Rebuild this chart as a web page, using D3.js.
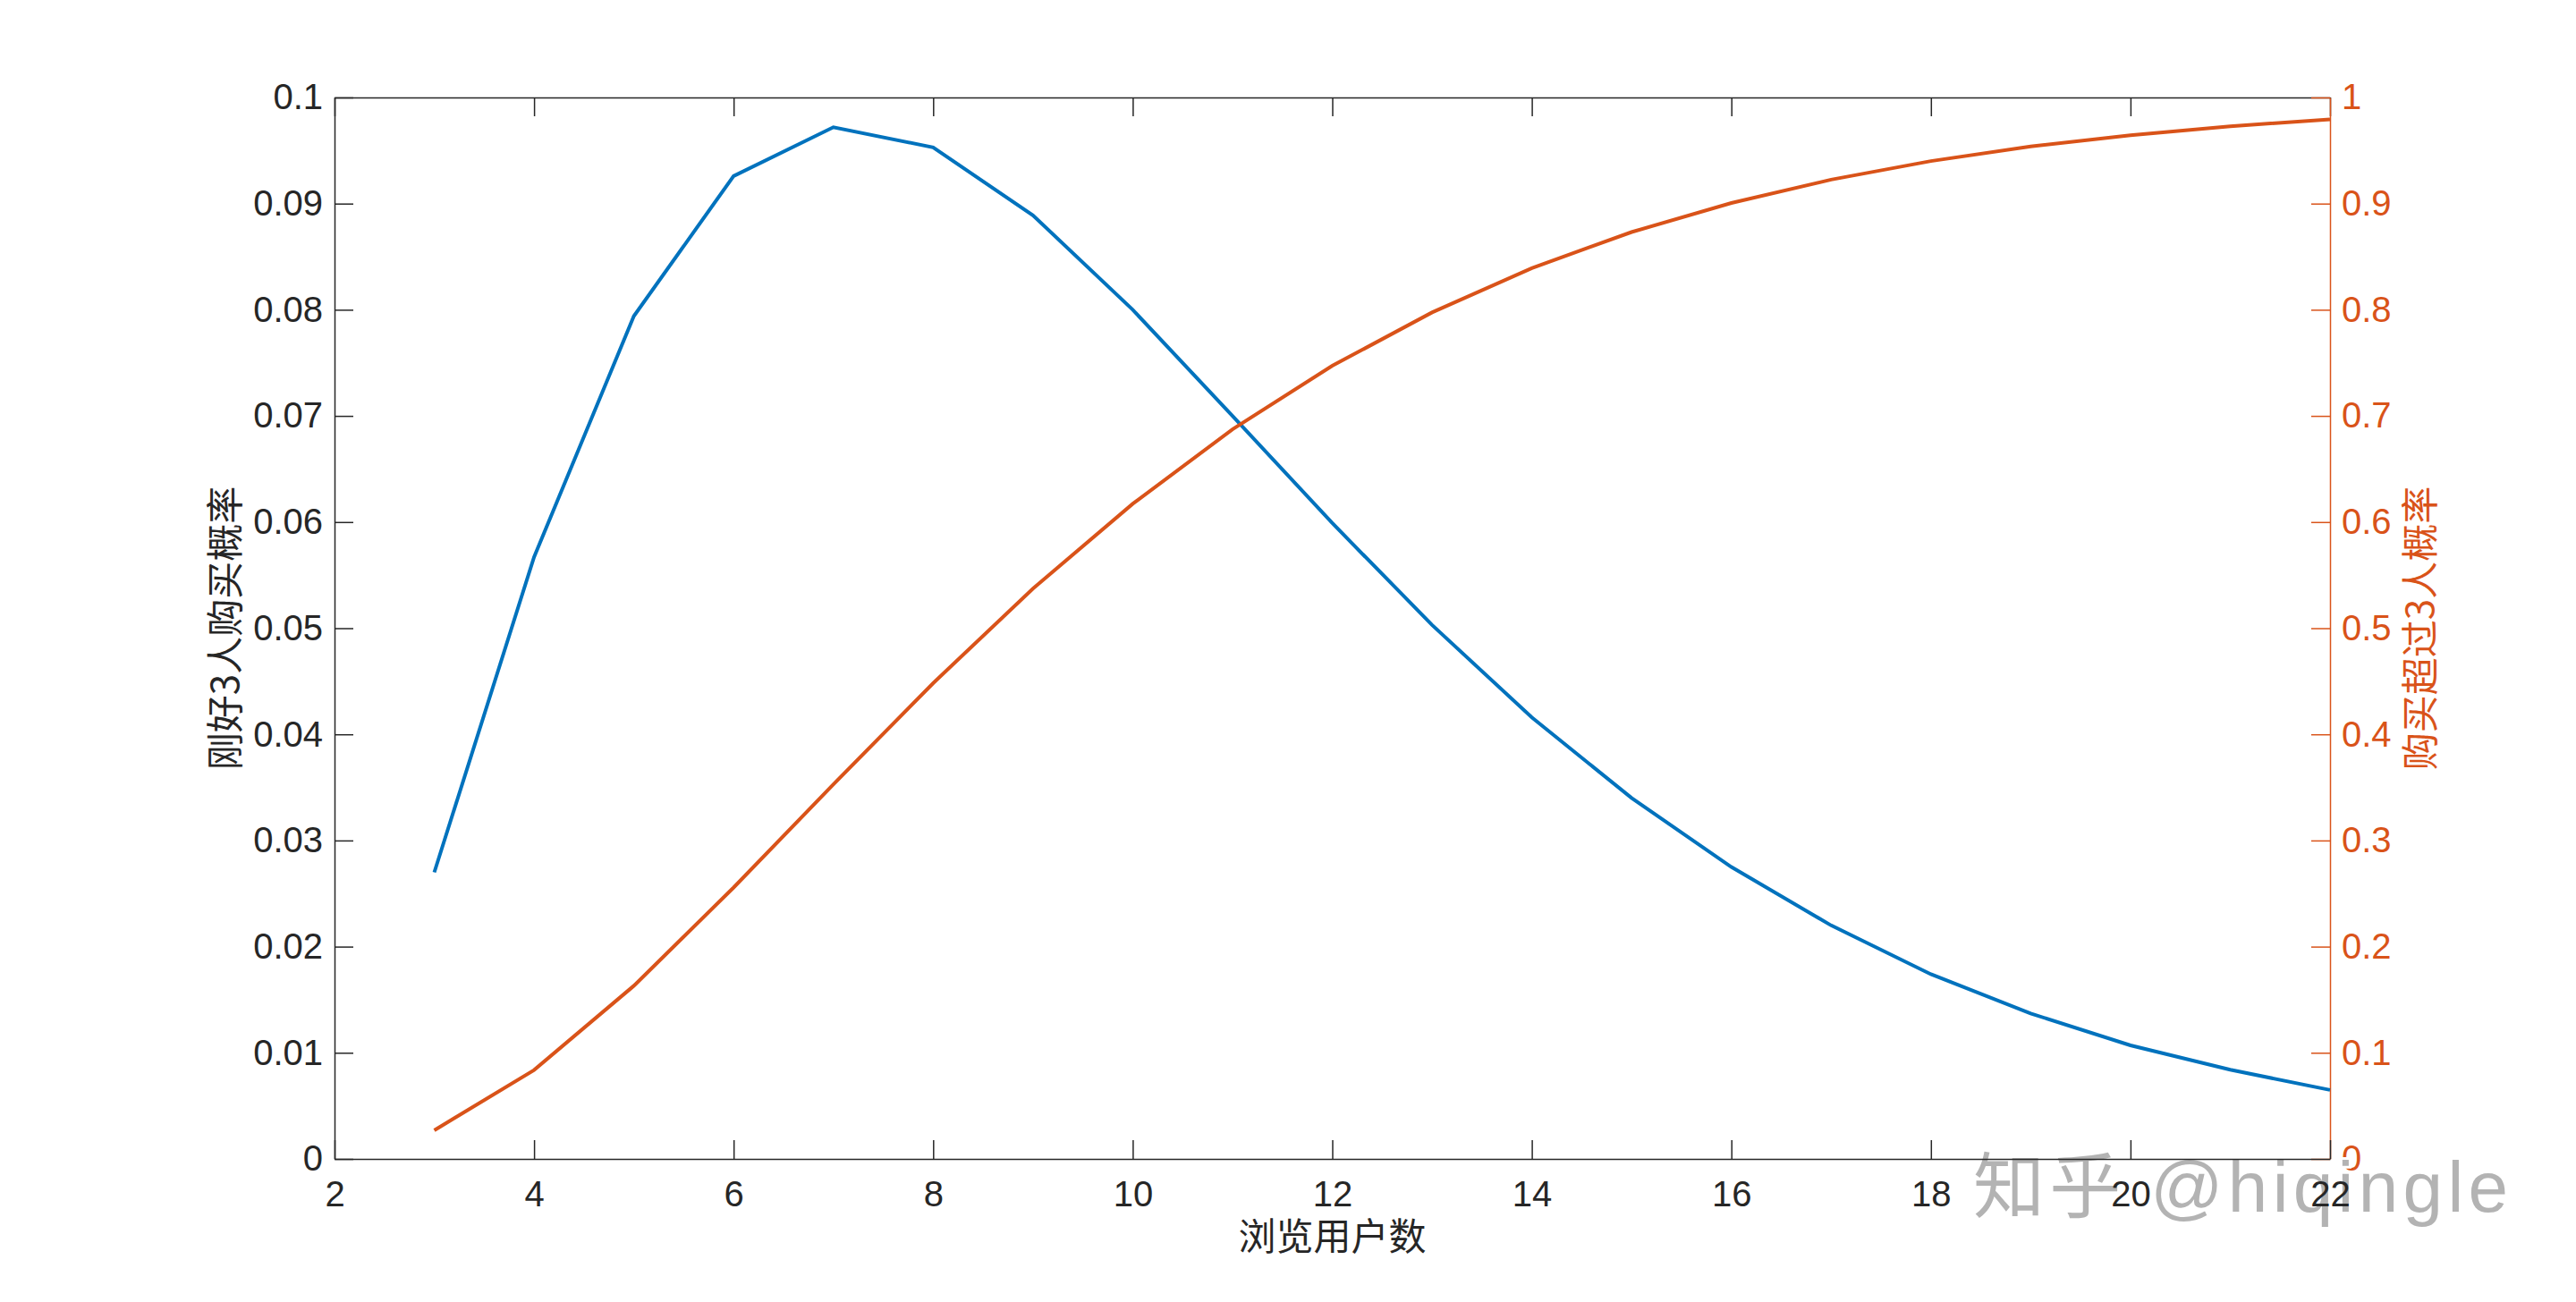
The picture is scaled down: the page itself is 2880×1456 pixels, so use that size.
<!DOCTYPE html>
<html>
<head>
<meta charset="utf-8">
<script src="https://cdn.jsdelivr.net/npm/d3@7"></script>
<style>
  body { margin: 0; background: #fff; }
  svg { display: block; }
  .axis text { font-family: "Liberation Sans", Arial, sans-serif; font-size: 40px; }
  .label { font-family: "Noto Sans CJK SC", sans-serif; font-size: 42px; }
</style>
</head>
<body>
<svg id="chart"></svg>
<script>
// viewers (x) and the two probability series
const viewers = [3, 4, 5, 6, 7, 8, 9, 10, 11, 12, 13, 14, 15, 16, 17, 18, 19, 20, 21, 22];
const exactly3 = [0.0270, 0.0567, 0.0794, 0.0926, 0.0972, 0.0953, 0.0889, 0.0800, 0.0700, 0.0599,
                  0.0503, 0.0416, 0.0340, 0.0275, 0.0220, 0.0174, 0.0137, 0.0107, 0.0084, 0.0065];
const atLeast3 = [0.0270, 0.0837, 0.1631, 0.2557, 0.3529, 0.4482, 0.5372, 0.6172, 0.6873, 0.7472,
                  0.7975, 0.8392, 0.8732, 0.9006, 0.9226, 0.9401, 0.9538, 0.9645, 0.9729, 0.9793];

const xTicks = [2, 4, 6, 8, 10, 12, 14, 16, 18, 20, 22];
const leftTicks = [0, 0.01, 0.02, 0.03, 0.04, 0.05, 0.06, 0.07, 0.08, 0.09, 0.1];
const rightTicks = [0, 0.1, 0.2, 0.3, 0.4, 0.5, 0.6, 0.7, 0.8, 0.9, 1];

const W = 2880, H = 1456;
const plotL = 374, plotR = 2605, plotT = 109, plotB = 1296;
const blue = "#0072BD", orange = "#D95319", ink = "#262626";

const svg = d3.select("#chart").attr("width", W).attr("height", H);
svg.append("rect").attr("width", W).attr("height", H).attr("fill", "#fff");

// scales
const x = d3.scaleLinear().domain([2, 22]).range([plotL, plotR]);
const yL = d3.scaleLinear().domain([0, 0.1]).range([plotB, plotT]);
const yR = d3.scaleLinear().domain([0, 1]).range([plotB, plotT]);

// axes (MATLAB style, ticks pointing inwards)
const gx = svg.append("g").attr("class", "axis")
    .attr("transform", "translate(0," + plotB + ")")
    .call(d3.axisBottom(x).tickValues(xTicks).tickSize(-21).tickSizeOuter(0).tickPadding(25).tickFormat(d3.format("d")));

svg.append("g").attr("class", "axis")
    .attr("transform", "translate(0," + plotT + ")")
    .call(d3.axisTop(x).tickValues(xTicks).tickSize(-21).tickSizeOuter(0).tickFormat(""));

svg.append("g").attr("class", "axis")
    .attr("transform", "translate(" + plotL + ",0)")
    .call(d3.axisLeft(yL).tickValues(leftTicks).tickSize(-21).tickSizeOuter(0).tickPadding(13).tickFormat(d => String(+d.toFixed(2))));

const gr = svg.append("g").attr("class", "axis")
    .attr("transform", "translate(" + plotR + ",0)")
    .call(d3.axisRight(yR).tickValues(rightTicks).tickSize(-21).tickSizeOuter(0).tickPadding(13).tickFormat(d => String(+d.toFixed(1))));

svg.selectAll(".axis path, .axis line").attr("stroke", ink).attr("stroke-width", 1.5);
svg.selectAll(".axis text").attr("fill", ink);
gr.selectAll("path, line").attr("stroke", orange);
gr.selectAll("text").attr("fill", orange);

// lines
const lineL = d3.line().x((d, i) => x(viewers[i])).y(d => yL(d));
const lineR = d3.line().x((d, i) => x(viewers[i])).y(d => yR(d));

svg.append("path").datum(exactly3)
    .attr("d", lineL).attr("fill", "none").attr("stroke", blue).attr("stroke-width", 4);
svg.append("path").datum(atLeast3)
    .attr("d", lineR).attr("fill", "none").attr("stroke", orange).attr("stroke-width", 4);

// labels
svg.append("text").attr("class", "label")
    .attr("x", (plotL + plotR) / 2).attr("y", 1398)
    .attr("text-anchor", "middle").attr("fill", ink)
    .text("浏览用户数");

svg.append("text").attr("class", "label")
    .attr("transform", "translate(267," + (plotT + plotB) / 2 + ")rotate(-90)")
    .attr("text-anchor", "middle").attr("fill", ink)
    .text("刚好3人购买概率");

svg.append("text").attr("class", "label")
    .attr("transform", "translate(2721," + (plotT + plotB) / 2 + ")rotate(-90)")
    .attr("text-anchor", "middle").attr("fill", orange)
    .text("购买超过3人概率");

// watermark
svg.append("text")
    .attr("x", 2206).attr("y", 1355)
    .attr("textLength", 598).attr("lengthAdjust", "spacing")
    .style("font-family", "'Liberation Sans', 'Noto Sans CJK SC', sans-serif").style("font-size", "80px")
    .attr("fill", "#b3b3b3")
    .attr("stroke", "#fff").attr("stroke-width", 6).attr("paint-order", "stroke")
    .text("知乎 @hiqingle");

// x tick labels stay readable above the watermark
gx.raise();
gx.selectAll("line, path").remove();
svg.append("g").attr("class", "axis")
    .attr("transform", "translate(0," + plotB + ")")
    .call(d3.axisBottom(x).tickValues(xTicks).tickSize(-21).tickSizeOuter(0).tickFormat(""))
    .lower().raise()
    .selectAll("path, line").attr("stroke", ink).attr("stroke-width", 1.5);
gx.raise();
</script>
</body>
</html>
